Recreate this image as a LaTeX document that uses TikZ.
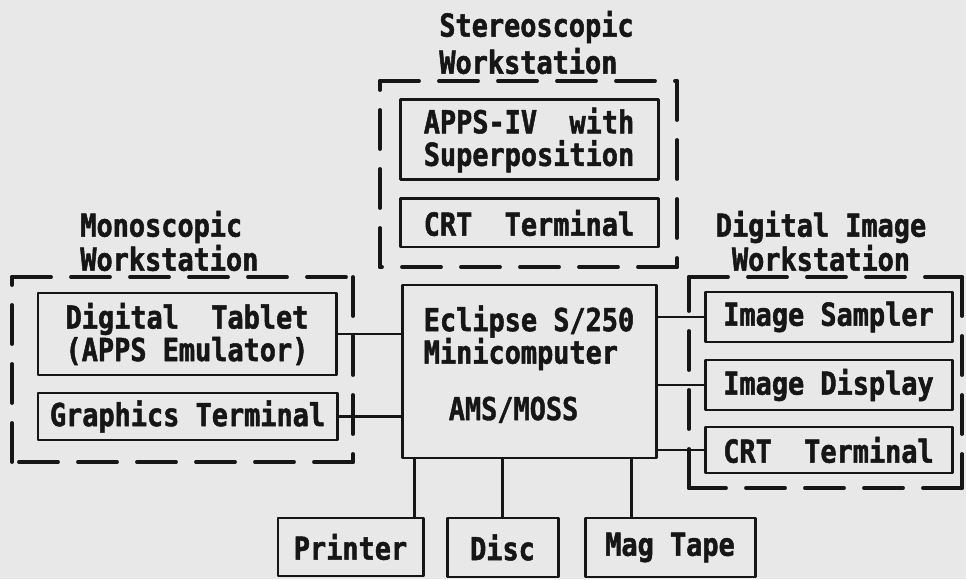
\documentclass[tikz,border=0pt]{standalone}
\usepackage{fontspec}
\usepackage{tikz}
\usetikzlibrary{
  calc,       % 坐标计算
  positioning % 节点相对定位
}
\newfontfamily\typefont{DejaVu Sans Mono}[FakeStretch=0.85, BoldFeatures={FakeBold=1.6}]
\newfontfamily\mossfont{DejaVu Sans Mono}[FakeStretch=0.85, FakeBold=1.2]
\definecolor{paper}{RGB}{232,232,232}
\definecolor{ink}{RGB}{22,22,22}

\tikzset{
  devbox/.style={draw=ink, line width=1.7pt, text=ink, inner sep=0pt,
    align=center, font=\typefont\bfseries\fontsize{18pt}{18.5pt}\selectfont},
  stationbox/.style={draw=ink, line width=2.2pt, line cap=round,
    dash pattern=on 0.78cm off 0.4cm},
  stationtitle/.style={text=ink, inner sep=0pt, align=left,
    font=\typefont\bfseries\fontsize{18pt}{16pt}\selectfont},
  wire/.style={draw=ink, line width=1.7pt}
}

\begin{document}
\begin{tikzpicture}[line join=round]

  % 底色与边界
  \useasboundingbox[fill=paper] (0,0) rectangle (19.32,11.58);

  % =========== 立体工作站 ===========
  \node[stationtitle, anchor=west] (stereot) at (8.78,10.73) {Stereoscopic\\[0.06cm]Workstation};
  \node[devbox, minimum width=5.16cm, minimum height=1.6cm] (apps) at (10.58,8.78) {APPS-IV~~with\\Superposition};
  \node[devbox, minimum width=5.16cm, minimum height=0.96cm] (crta) at (10.58,7.12) {CRT~~Terminal};
  % 虚线框
  \coordinate (s1) at (7.6,9.96);
  \coordinate (s2) at (13.54,9.96);
  \coordinate (s3) at (13.54,6.24);
  \coordinate (s4) at (7.6,6.24);
  \foreach \a/\b in {s1/s2,s2/s3,s3/s4,s4/s1}
    \draw[stationbox] (\a) -- (\b);

  % =========== 单像工作站 ===========
  \node[stationtitle, anchor=west] (monot) at (1.6,6.76) {Monoscopic\\Workstation};
  \node[devbox, minimum width=5.96cm, minimum height=1.64cm] (tablet) at (3.74,4.9) {Digital~~Tablet\\(APPS Emulator)};
  \node[devbox, minimum width=5.98cm, minimum height=0.94cm] (graphics) at (3.75,3.25) {Graphics Terminal};
  % 虚线框
  \coordinate (m1) at (0.24,6.04);
  \coordinate (m2) at (7.06,6.04);
  \coordinate (m3) at (7.06,2.34);
  \coordinate (m4) at (0.24,2.34);
  \foreach \a/\b in {m1/m2,m2/m3,m3/m4,m4/m1}
    \draw[stationbox] (\a) -- (\b);

  % =========== 数字影像工作站 ===========
  \node[stationtitle, align=center] (imaget) at (16.42,6.76) {Digital Image\\Workstation};
  \node[devbox, minimum width=4.94cm, minimum height=1.0cm] (sampler) at (16.57,5.24) {Image Sampler};
  \node[devbox, minimum width=4.94cm, minimum height=1.0cm] (display) at (16.57,3.88) {Image Display};
  \node[devbox, minimum width=4.94cm, minimum height=0.92cm] (crtb) at (16.57,2.58) {CRT~~Terminal};
  % 虚线框
  \coordinate (d1) at (13.78,6.04);
  \coordinate (d2) at (19.24,6.04);
  \coordinate (d3) at (19.24,1.82);
  \coordinate (d4) at (13.78,1.82);
  \foreach \a/\b in {d1/d2,d2/d3,d3/d4,d4/d1}
    \draw[stationbox] (\a) -- (\b);

  % =========== 主机 ===========
  \node[devbox, align=left, minimum width=5.08cm, minimum height=3.46cm] (eclipse) at (10.58,4.15)
    {Eclipse S/250\\Minicomputer\\[0.48cm]\hspace*{0.5cm}{\mossfont AMS/MOSS}\\[-0.3cm]\mbox{}};

  % =========== 外设 ===========
  \node[devbox, minimum width=2.9cm, minimum height=1.16cm] (printer) at (7.01,0.64) {Printer};
  \node[devbox, minimum width=2.22cm, minimum height=1.18cm] (disc) at (10.05,0.63) {Disc};
  \node[devbox, minimum width=3.4cm, minimum height=1.18cm] (magtape) at (13.4,0.63) {Mag Tape};

  % =========== 连线 ===========
  \draw[wire] (tablet.east) -- (tablet.east -| eclipse.west);
  \draw[wire] (graphics.east) -- (graphics.east -| eclipse.west);
  \draw[wire] (sampler.west) -- (sampler.west -| eclipse.east);
  \draw[wire] (display.west) -- (display.west -| eclipse.east);
  \draw[wire] (crtb.west) -- (crtb.west -| eclipse.east);
  % 下方外设的接线点
  \coordinate (ptap) at ([xshift=-0.2cm]printer.north east);
  \coordinate (mtap) at ([xshift=0.96cm]magtape.north west);
  \draw[wire] (ptap) -- (ptap |- eclipse.south);
  \draw[wire] (disc.north) -- (disc.north |- eclipse.south);
  \draw[wire] (mtap) -- (mtap |- eclipse.south);

\end{tikzpicture}
\end{document}
